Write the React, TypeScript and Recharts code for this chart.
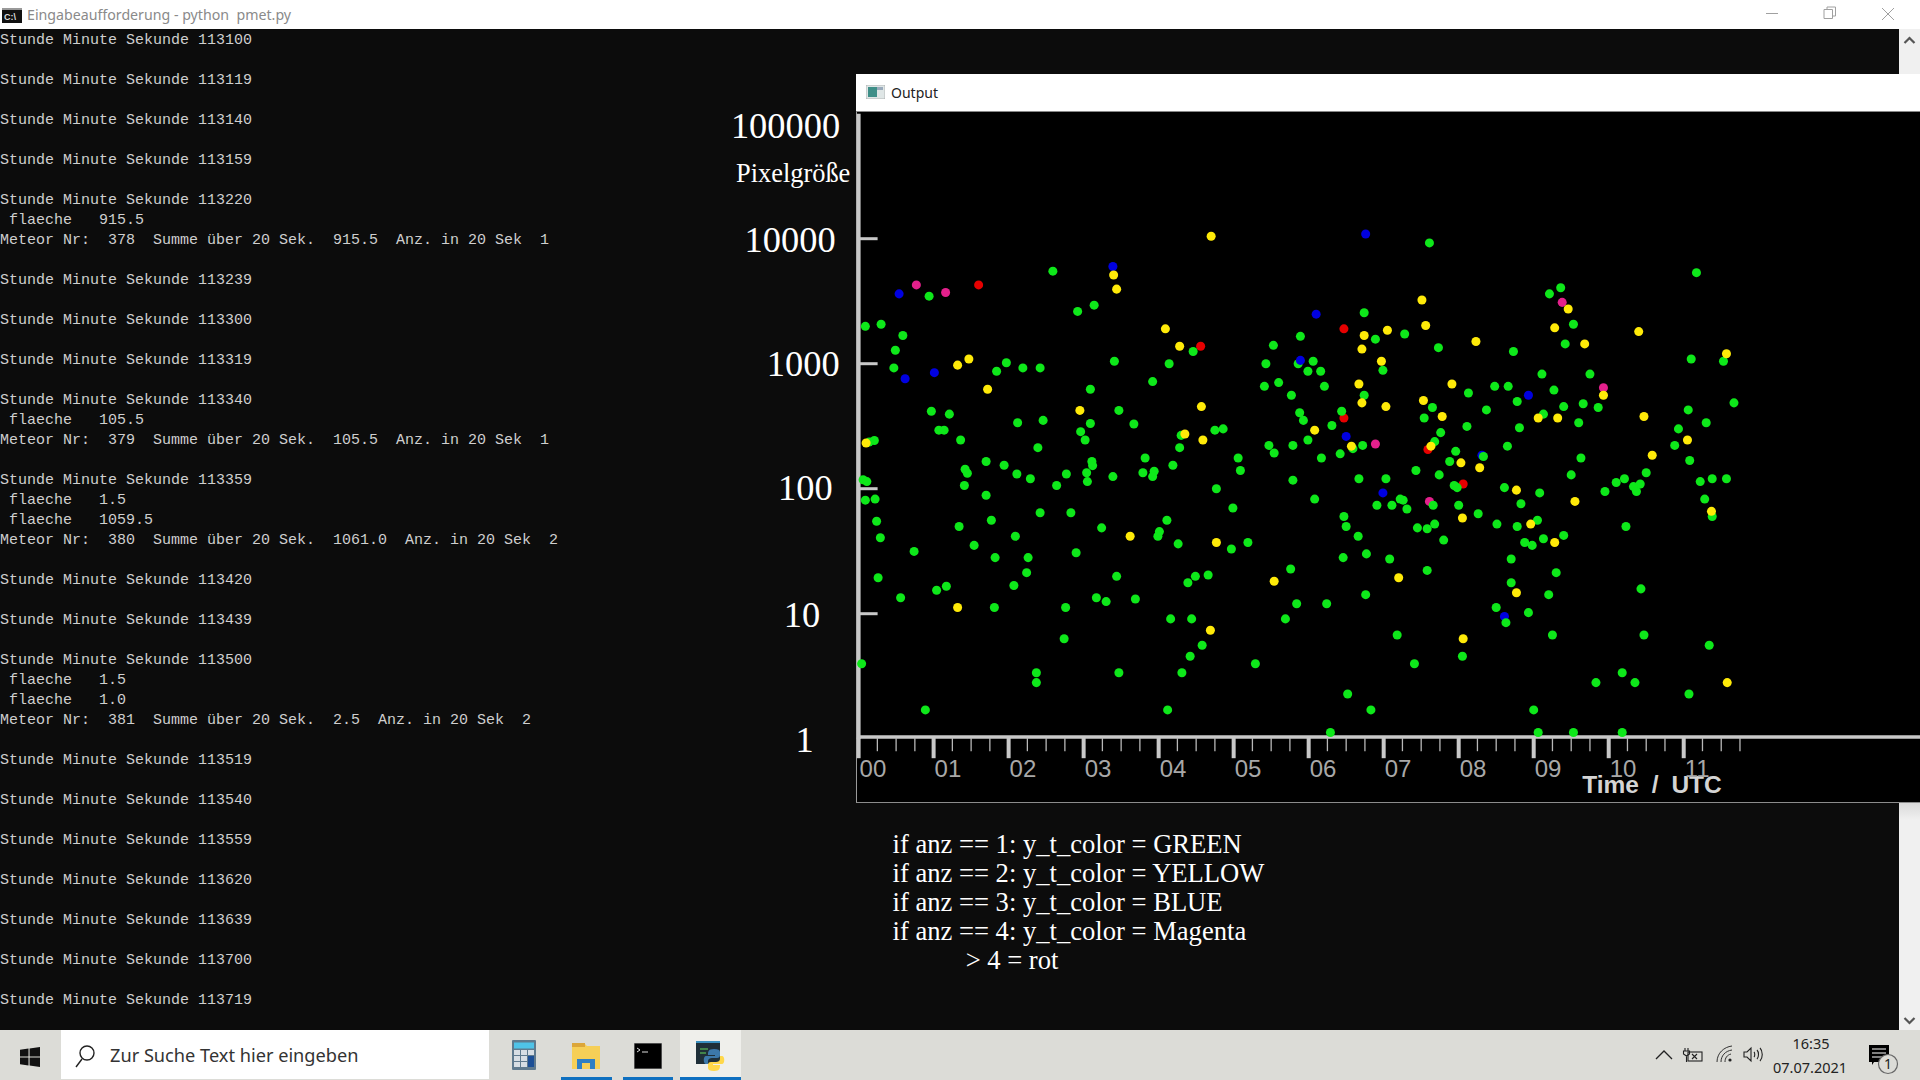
import React from "react";
import { ScatterChart, Scatter, XAxis, YAxis, ZAxis, Label } from "recharts";

// ---------- chart values ----------
const greenHours = [
  0.09,0.30,0.59,0.49,0.47,0.94,2.59,2.92,3.14,0.97,1.21,1.07,1.14,1.36,0.21,0.14,0.06,0.11,0.09,0.22,0.24,0.29,0.26,0.56,0.74,1.04,1.17,0.04,0.89,1.34,
  1.54,1.82,1.77,1.70,1.41,1.42,1.45,1.70,1.94,2.11,2.29,2.12,2.46,2.39,1.84,1.97,2.19,2.42,2.64,2.77,2.42,2.83,2.09,2.26,2.24,2.07,1.81,2.76,2.74,2.37,
  2.37,2.90,3.09,3.41,3.09,2.96,3.02,3.47,3.67,3.11,3.12,3.04,3.05,3.39,3.79,3.94,3.92,3.82,4.19,4.28,4.30,3.92,4.14,4.46,3.24,4.01,3.99,4.11,4.26,4.77,
  4.75,4.86,5.06,5.09,4.99,4.97,5.19,4.66,4.49,4.39,3.44,3.17,3.30,3.69,4.16,4.44,4.58,4.42,4.31,3.47,4.12,5.29,5.41,5.43,5.53,5.60,5.77,5.86,5.89,5.99,
  6.06,6.16,6.21,5.88,5.93,6.31,6.44,6.74,6.74,6.89,5.47,5.54,5.79,5.99,6.17,6.42,6.59,6.72,5.79,6.08,6.67,6.47,6.50,6.66,6.91,6.46,6.77,5.76,5.84,6.24,
  5.69,6.76,6.52,6.83,6.29,
  7.61,11.17,9.21,9.36,9.53,9.42,7.28,7.73,8.73,11.10,11.53,11.67,6.99,9.11,9.75,8.48,8.66,8.13,8.78,9.27,7.65,7.54,8.37,9.40,9.66,9.86,9.13,11.06,11.30,9.60,
  8.11,8.81,7.76,7.68,8.65,7.96,7.88,8.33,9.63,10.88,10.93,11.08,7.43,7.03,7.74,9.50,10.50,10.21,10.10,10.42,10.33,10.37,9.95,11.22,11.38,11.57,11.28,11.38,7.94,7.98,
  8.61,9.08,8.83,8.00,7.66,7.22,7.26,7.11,7.31,8.26,8.51,8.78,9.05,7.68,7.45,7.58,7.80,8.88,8.98,9.13,9.40,10.23,7.08,8.70,7.58,9.30,8.70,9.20,10.43,8.50,
  8.93,8.63,7.18,9.25,10.47,11.34,8.05,7.41,10.18,9.83,10.35,11.07,9.00,9.06,9.53,10.18,
];
const greenSizes = [
  1990,2070,1680,1280,925,3470,5500,2620,2940,416,395,294,294,245,243,236,118,114,81,82.6,54.9,40.5,19.4,13.4,31.5,15.4,16.6,3.98,1.7,49.9,
  35.2,28.1,55.9,88.6,106,143,133,165,154,131,120,337,352,213,870,1018,925,925,106,131,64.2,64.2,41.6,28.1,21.3,16.8,11.2,11.2,6.31,3.37,
  2.81,30.7,625,1045,332,286,245,423,329,165,153,134,114,125,134,138,125,176,154,213,267,719,1000,1253,48.6,45.4,41.6,55.9,36.2,100,
  294,301,176,140,70,32.9,37.1,20.4,19.9,17.7,19.9,13.4,12.5,13.1,9.09,9.09,5.59,4.57,3.37,3.37,1.7,3.98,659,1000,1403,706,559,1000,1656,870,
  1045,870,659,405,352,320,416,559,2556,1571,222,193,222,245,176,190,209,222,117,82.6,120,59.9,49.9,41.6,73.8,28.1,30.1,22.8,12,12,
  9.09,14.2,2.28,1.7,1.12,
  9250,5350,3620,4050,2070,1440,1730,1344,1253,1091,1045,486,885,826,826,659,659,583,499,615,446,368,427,454,478,446,395,427,337,337,
  315,307,281,238,219,199,165,181,176,222,301,168,140,120,129,129,134,120,112,109,104,94.9,94.9,114,120,120,82.6,59.9,106,102,
  102,92.5,75.7,73.8,73.8,82.6,81,73.8,68.8,63.1,52.1,49.9,55.9,52.1,48.6,47.8,38.8,37.1,35.2,39.8,42.3,49.9,27.4,27.4,22.2,21.3,17.7,14.2,15.8,11.2,
  10.2,8.48,6.76,6.76,6.76,5.59,4.57,3.98,3.37,2.81,2.81,2.28,1.7,1.12,1.12,1.12,
];
const yellowHours = [4.70,3.40,3.44,4.09,4.28,1.32,1.47,1.72,2.95,4.57,4.59,4.35,0.10,3.62,4.77,1.32,5.54,4.69,6.74,6.71,6.67,6.71,6.08,6.57,
  7.51,7.56,7.05,8.23,9.28,9.46,9.68,10.40,11.57,6.97,7.91,7.53,7.03,7.78,9.06,9.32,9.93,10.47,7.63,8.03,8.28,11.05,10.58,8.77,9.55,8.05,8.96,9.28,11.37,7.20,8.77,8.06,11.58];
const yellowSizes = [10450,5120,3950,1900,1380,974,1091,625,423,454,245,274,232,41.6,37.1,11.2,18.2,7.38,1680,1309,688,486,294,219,
  3230,2020,1853,1504,1936,2740,1440,1806,1200,1045,688,508,454,378,368,368,559,378,219,161,147,245,185,97.4,79.1,58.3,52.1,37.1,65.9,19.4,14.7,6.31,2.81];
const blueHours = [0.54,3.39,0.62,1.01,6.76,6.10,6.50,6.99,8.93,8.31,8.61];
const blueSizes = [3620,5990,757,848,10900,2490,262,92.5,559,185,9.49];
// the one blue point that lies on top of a green one
const blueTopHours = [5.89];
const blueTopSizes = [1063];
const magentaHours = [0.77,1.16,6.89,9.38,9.93,7.61];
const magentaSizes = [4270,3715,228,3095,642,79.1];
const redHours = [1.60,4.56,6.47,6.47,7.59,8.06];
const redSizes = [4270,1380,1900,368,206,109];

const sizeTicks = [1, 10, 100, 1000, 10000, 100000];
const hourTicks = [0,0.25,0.5,0.75,1,1.25,1.5,1.75,2,2.25,2.5,2.75,3,3.25,3.5,3.75,4,4.25,4.5,4.75,5,5.25,5.5,5.75,6,6.25,6.5,6.75,7,7.25,7.5,7.75,8,8.25,8.5,8.75,9,9.25,9.5,9.75,10,10.25,10.5,10.75,11,11.25,11.5,11.75];
const hourNames = ["00","01","02","03","04","05","06","07","08","09","10","11"];

const legendLines = [
  "if anz == 1: y_t_color = GREEN",
  "if anz == 2: y_t_color = YELLOW",
  "if anz == 3: y_t_color = BLUE",
  "if anz == 4: y_t_color = Magenta",
  "           > 4 = rot",
];
const consoleLines = [
  "Stunde Minute Sekunde 113100","",
  "Stunde Minute Sekunde 113119","",
  "Stunde Minute Sekunde 113140","",
  "Stunde Minute Sekunde 113159","",
  "Stunde Minute Sekunde 113220",
  " flaeche   915.5",
  "Meteor Nr:  378  Summe über 20 Sek.  915.5  Anz. in 20 Sek  1","",
  "Stunde Minute Sekunde 113239","",
  "Stunde Minute Sekunde 113300","",
  "Stunde Minute Sekunde 113319","",
  "Stunde Minute Sekunde 113340",
  " flaeche   105.5",
  "Meteor Nr:  379  Summe über 20 Sek.  105.5  Anz. in 20 Sek  1","",
  "Stunde Minute Sekunde 113359",
  " flaeche   1.5",
  " flaeche   1059.5",
  "Meteor Nr:  380  Summe über 20 Sek.  1061.0  Anz. in 20 Sek  2","",
  "Stunde Minute Sekunde 113420","",
  "Stunde Minute Sekunde 113439","",
  "Stunde Minute Sekunde 113500",
  " flaeche   1.5",
  " flaeche   1.0",
  "Meteor Nr:  381  Summe über 20 Sek.  2.5  Anz. in 20 Sek  2","",
  "Stunde Minute Sekunde 113519","",
  "Stunde Minute Sekunde 113540","",
  "Stunde Minute Sekunde 113559","",
  "Stunde Minute Sekunde 113620","",
  "Stunde Minute Sekunde 113639","",
  "Stunde Minute Sekunde 113700","",
  "Stunde Minute Sekunde 113719",
];

const toPoints = (hours: number[], sizes: number[]) => hours.map((hour, i) => ({ hour, size: sizes[i] }));

// ---------- styling ----------
const COLORS = { green: "#0ee81a", yellow: "#ffea08", blue: "#0000e0", magenta: "#e4208c", red: "#e60000" };
const AXIS = "#c8c8c8";
const SERIF = "'Liberation Serif', serif";
const SANS = "'Liberation Sans', sans-serif";
const UI = "'Noto Sans', sans-serif";

// right shift and down shift of each hand-placed size label
const sizeLabelShift: Record<number, [number, number]> = {
  100000: [-18.5, 12], 10000: [-23, 1], 1000: [-19, 0], 100: [-26, -1], 10: [-38.5, 1], 1: [-45, 1],
};

const YTick = ({ x, y, payload }: any) => {
  const [dx, dy] = sizeLabelShift[payload.value] || [0, 0];
  const showLine = payload.value > 1 && payload.value < 100000;
  return (
    <g>
      {showLine && <line x1={x} x2={x + 19} y1={y} y2={y} stroke={AXIS} strokeWidth={3} />}
      <text x={x + dx} y={y + dy + 12} textAnchor="end" fontFamily={SERIF} fontSize={36.4} fill="#fff">
        {String(payload.value)}
      </text>
    </g>
  );
};

const XTick = ({ x, y, payload }: any) => {
  const major = Number.isInteger(payload.value);
  return (
    <g>
      <line x1={x} x2={x} y1={y - 1} y2={y + (major ? 19.5 : 12.5)} stroke={major ? AXIS : "#b8b8b8"} strokeWidth={major ? 4 : 1.3} />
      {major && (
        <text x={x + 1} y={y + 38} fontFamily={SANS} fontSize={24} fill="#a8a8a8" textAnchor="start">
          {hourNames[payload.value]}
        </text>
      )}
    </g>
  );
};

const Chart = () => (
  <ScatterChart
    width={1220}
    height={702}
    margin={{ top: 13.7, right: 0, bottom: 0, left: 0 }}
    style={{ position: "absolute", left: 700, top: 100 }}
  >
    <XAxis
      type="number"
      dataKey="hour"
      domain={[0, 14.15]}
      ticks={hourTicks}
      interval={0}
      height={63.3}
      tickLine={false}
      tickSize={0}
      tickMargin={0}
      axisLine={{ stroke: AXIS, strokeWidth: 3.4, transform: "translate(0,-1.7)" }}
      tick={XTick}
    >
      <Label
        content={() => (
          <text x={952} y={692.5} textAnchor="middle" fontFamily={SANS} fontWeight="bold" fontSize={24.5} fill="#d4d4d4" style={{ wordSpacing: 6 }}>
            Time / UTC
          </text>
        )}
      />
    </XAxis>
    <YAxis
      type="number"
      dataKey="size"
      scale="log"
      domain={[1, 100000]}
      ticks={sizeTicks}
      interval={0}
      width={158.6}
      tickLine={false}
      tickSize={0}
      tickMargin={0}
      axisLine={{ stroke: AXIS, strokeWidth: 4 }}
      tick={YTick}
    >
      <Label
        content={() => (
          <text x={36} y={82} fontFamily={SERIF} fontSize={26.4} fill="#fff">
            Pixelgröße
          </text>
        )}
      />
    </YAxis>
    <ZAxis range={[37, 37]} />
    <Scatter name="rot" data={toPoints(redHours, redSizes)} fill={COLORS.red} isAnimationActive={false} />
    <Scatter name="Magenta" data={toPoints(magentaHours, magentaSizes)} fill={COLORS.magenta} isAnimationActive={false} />
    <Scatter name="BLUE" data={toPoints(blueHours, blueSizes)} fill={COLORS.blue} isAnimationActive={false} />
    <Scatter name="GREEN" data={toPoints(greenHours, greenSizes)} fill={COLORS.green} isAnimationActive={false} />
    <Scatter name="BLUE" data={toPoints(blueTopHours, blueTopSizes)} fill={COLORS.blue} isAnimationActive={false} />
    <Scatter name="YELLOW" data={toPoints(yellowHours, yellowSizes)} fill={COLORS.yellow} isAnimationActive={false} />
  </ScatterChart>
);

const abs = (left: number, top: number, width: number, height: number, extra: any = {}) => ({
  position: "absolute" as const, left, top, width, height, ...extra,
});

const Arrow = ({ y, up }: { y: number; up: boolean }) => (
  <svg style={abs(1903, y, 13, 8)} viewBox="0 0 13 8">
    <path d={up ? "M1.5 7 L6.5 2 L11.5 7" : "M1.5 1 L6.5 6 L11.5 1"} fill="none" stroke="#555" strokeWidth="2.2" />
  </svg>
);

const Furniture = () => (
  <>
    {/* console */}
    <div style={abs(0, 29, 1899, 1001, { background: "#0c0c0c" })} />
    <div style={abs(0, 0, 1920, 29, { background: "#fff" })} />
    <svg style={abs(2, 8, 20, 15)} viewBox="0 0 20 15">
      <rect width="20" height="15" fill="#111" />
      <rect y="0" width="20" height="2" fill="#999" />
      <text x="2" y="12" fontSize="9" fontWeight="bold" fill="#ddd" fontFamily={SANS}>C:\</text>
    </svg>
    <div style={abs(27, 4, 400, 22, { font: `14.2px/21px ${UI}`, color: "#8a8a8a", whiteSpace: "pre" })}>
      Eingabeaufforderung - python  pmet.py
    </div>
    <svg style={abs(1760, 4, 140, 20)} viewBox="0 0 140 20" fill="none" stroke="#a0a0a0" strokeWidth="1">
      <path d="M6 9.5 H18" />
      <path d="M64 5.5 H72.5 V14.5 H64 Z M67 5.5 V3 H75.5 V12 H72.5" />
      <path d="M122 4 L134 16 M134 4 L122 16" />
    </svg>
    <div
      style={abs(0, 30.5, 900, 1001, {
        font: "15px/20px 'Liberation Mono', monospace",
        color: "#cfcfcf",
        whiteSpace: "pre",
      })}
    >
      {consoleLines.map((l, i) => (
        <div key={i} style={{ height: 20 }}>{l}</div>
      ))}
    </div>
    {/* scrollbar */}
    <div style={abs(1899, 29, 21, 1001, { background: "#f0f0f0" })} />
    <div style={abs(1899, 802, 21, 18, { background: "linear-gradient(#d8d8d8,#f0f0f0)" })} />
    <Arrow y={36} up />
    <Arrow y={1017} up={false} />

    {/* Output window */}
    <div style={abs(856, 74, 1064, 38, { background: "#fff" })} />
    <div style={abs(856, 112, 1064, 690.5, { background: "#000", borderBottom: "1.5px solid #8c8c8c", borderLeft: "1px solid #9a9a9a", boxSizing: "border-box" })} />
    <div style={abs(856, 111, 1064, 1, { background: "#888" })} />
    <svg style={abs(866, 85, 19, 14)} viewBox="0 0 19 14">
      <rect width="19" height="14" fill="#dfe6e6" stroke="#999" strokeWidth="0.6" />
      <rect x="2" y="2" width="9" height="10" fill="#3f8f88" />
      <rect x="11" y="2" width="6" height="3" fill="#9ab" />
    </svg>
    <div style={abs(891, 82, 100, 22, { font: `14px/21px ${UI}`, color: "#222" })}>Output</div>

    {/* colour notes */}
    {legendLines.map((l, i) => (
      <div
        key={i}
        style={abs(892.5, 829 + i * 29.1, 600, 30, { font: `26.6px/30px ${SERIF}`, color: "#fff", whiteSpace: "pre" })}
      >
        {l}
      </div>
    ))}

    {/* taskbar */}
    <div style={abs(0, 1030, 1920, 50, { background: "#dcdcd7" })} />
    <svg style={abs(20, 1047, 20, 20)} viewBox="0 0 20 20" fill="#111">
      <path d="M0 2.8 L8.5 1.6 V9.4 H0 Z M9.6 1.4 L20 0 V9.4 H9.6 Z M0 10.6 H8.5 V18.4 L0 17.2 Z M9.6 10.6 H20 V20 L9.6 18.6 Z" />
    </svg>
    <div style={abs(61, 1030, 428, 49, { background: "#fff" })} />
    <svg style={abs(74, 1044, 22, 24)} viewBox="0 0 22 24" fill="none" stroke="#222" strokeWidth="1.4">
      <circle cx="13" cy="9" r="7" />
      <path d="M8 15 L2 23" />
    </svg>
    <div style={abs(110, 1041, 300, 28, { font: `18.2px/28px ${UI}`, color: "#333" })}>Zur Suche Text hier eingeben</div>
    <svg style={abs(512, 1040, 24, 30)} viewBox="0 0 24 30">
      <rect width="24" height="30" fill="#5f7a8e" rx="1" />
      <rect x="2" y="2.5" width="20" height="6" fill="#4fc3e8" />
      <g fill="#d7dee4">
        <rect x="2" y="10" width="6" height="5" /><rect x="9" y="10" width="6" height="5" /><rect x="16" y="10" width="6" height="5" />
        <rect x="2" y="16" width="6" height="5" /><rect x="9" y="16" width="6" height="5" />
        <rect x="2" y="22" width="6" height="5" /><rect x="9" y="22" width="6" height="5" />
      </g>
      <rect x="16" y="16" width="6" height="11" fill="#1c4f96" />
    </svg>
    <svg style={abs(572, 1043, 28, 26)} viewBox="0 0 28 26">
      <path d="M0 0 H12 L15 3 H28 V26 H0 Z" fill="#f6cf57" />
      <rect x="0" y="0" width="13" height="4" fill="#dca63a" />
      <path d="M5 26 V16 H23 V26 H18 V20 H10 V26 Z" fill="#2f7fc4" />
    </svg>
    <svg style={abs(634, 1043, 28, 26)} viewBox="0 0 28 26">
      <rect width="28" height="26" fill="#000" stroke="#999" strokeWidth="1" />
      <path d="M3 5 L6 7 L3 9 M8 9 H14" stroke="#ddd" fill="none" strokeWidth="1" />
    </svg>
    <div style={abs(680, 1030, 61, 50, { background: "#efefeb" })} />
    <svg style={abs(696, 1041, 30, 30)} viewBox="0 0 30 30">
      <rect x="0" y="0" width="24" height="23" fill="#1f2f38" />
      <rect x="0" y="0" width="24" height="2" fill="#3a90c0" />
      <path d="M4 8 H12 M4 12 H10" stroke="#4fa04f" strokeWidth="1.5" />
      <path d="M18 8 C12 8 12 11 12 14 H19 V15 H10 C7 15 7 23 10 23 H12 V20 C12 18 14 17 16 17 H21 C23 17 24 16 24 14 V11 C24 9 22 8 18 8 Z" fill="#3c78aa" />
      <path d="M18 30 C24 30 24 27 24 24 H17 V23 H26 C29 23 29 15 26 15 H24 V18 C24 20 22 21 20 21 H15 C13 21 12 22 12 24 V27 C12 29 14 30 18 30 Z" fill="#ffd84a" />
    </svg>
    {[[561, 51], [623, 50], [680, 61]].map(([l, w], i) => (
      <div key={i} style={abs(l, 1077, w, 3, { background: "#0f70c0" })} />
    ))}

    {/* tray */}
    <svg style={abs(1655, 1050, 18, 10)} viewBox="0 0 18 10" fill="none" stroke="#222" strokeWidth="1.3"><path d="M1 9 L9 1 L17 9" /></svg>
    <svg style={abs(1682, 1047, 22, 16)} viewBox="0 0 22 16" fill="none" stroke="#222" strokeWidth="1.1">
      <path d="M3 1 V4 M6 1 V4 M1.5 4 H7.5 V7 L4.5 9 L1.5 7 Z M4.5 9 V15" />
      <rect x="6" y="5" width="14" height="9" />
      <path d="M10 7 L15 12 M15 7 L10 12" />
    </svg>
    <svg style={abs(1716, 1045, 18, 18)} viewBox="0 0 18 18" fill="none" stroke="#333" strokeWidth="1">
      <path d="M1 17 C1 8 8 2 16 1 M5 17 C5 11 9 6 16 5 M9 17 C9 13 11 10 15 9" />
      <circle cx="14" cy="15" r="1.6" fill="#222" stroke="none" />
    </svg>
    <svg style={abs(1743, 1046, 21, 17)} viewBox="0 0 21 17" fill="none" stroke="#222" strokeWidth="1.1">
      <path d="M1 6 H4 L8 2 V15 L4 11 H1 Z M11 6 C12 7 12 10 11 11 M14 4 C16 6 16 11 14 13 M17 2 C20 5 20 12 17 15" />
    </svg>
    <div style={abs(1751, 1032, 120, 22, { font: `14.5px/22px ${UI}`, color: "#222", textAlign: "center" })}>16:35</div>
    <div style={abs(1750, 1056, 120, 22, { font: `14.5px/22px ${UI}`, color: "#222", textAlign: "center" })}>07.07.2021</div>
    <svg style={abs(1868, 1044, 32, 32)} viewBox="0 0 32 32">
      <path d="M1 1 H21 V18 H6 L4 21 V18 H1 Z" fill="#000" />
      <path d="M4 5 H18 M4 9 H18 M4 13 H14" stroke="#fff" strokeWidth="1" />
      <circle cx="20" cy="20" r="9.5" fill="#dcdcd7" stroke="#666" strokeWidth="1.2" />
      <text x="20" y="25" textAnchor="middle" fontSize="14" fontFamily={UI} fill="#222">1</text>
    </svg>
  </>
);

export default function App() {
  return (
    <div style={abs(0, 0, 1920, 1080, { background: "#0c0c0c", overflow: "hidden" })}>
      <Furniture />
      <Chart />
    </div>
  );
}
